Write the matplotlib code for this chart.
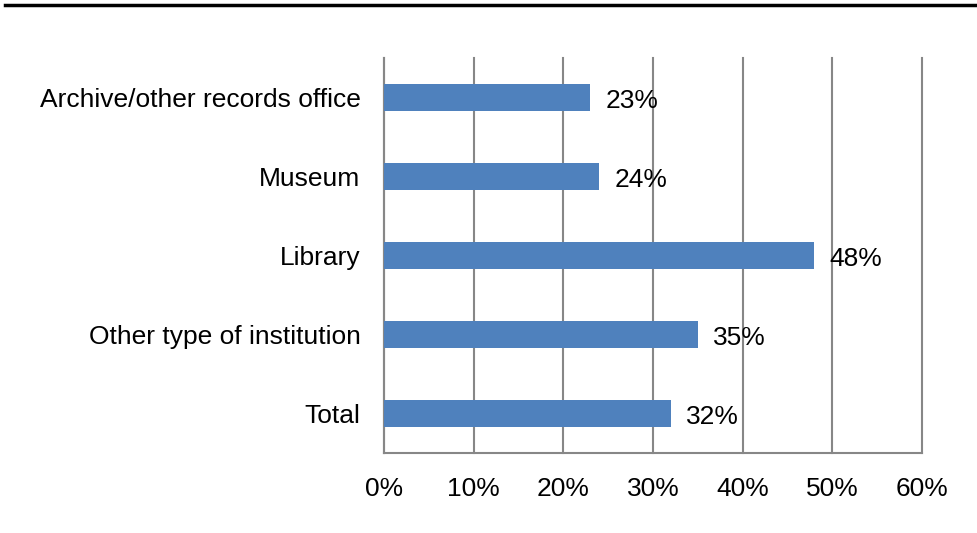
import matplotlib
matplotlib.use("Agg")
import matplotlib.pyplot as plt
from matplotlib.lines import Line2D
from matplotlib.ticker import PercentFormatter

categories = ["Total", "Other type of institution", "Library", "Museum", "Archive/other records office"]
values = [32, 35, 48, 24, 23]
xticks = [0, 10, 20, 30, 40, 50, 60]

plt.rcParams['font.family'] = ['Liberation Sans', 'DejaVu Sans']
fig = plt.figure(figsize=(9.78, 5.33), dpi=100)
ax = fig.add_axes([384/978, 1-453/533, (922-384)/978, (453-58)/533])

y = list(range(len(categories)))
ax.barh(y, values, height=0.35, color='#4f81bd', zorder=3)
for yi, v in zip(y, values):
    ax.text(v + 1.7, yi - 0.04, f"{v}%", va='center', ha='left', fontsize=19, zorder=4)

ax.set_xlim(0, 60)
ax.set_ylim(-0.5, 4.5)
ax.set_xticks(xticks)
ax.xaxis.set_major_formatter(PercentFormatter(decimals=0))
ax.set_yticks(y)
ax.set_yticklabels(categories)
ax.tick_params(axis='both', length=0, labelsize=19)
ax.tick_params(axis='x', pad=17)
ax.tick_params(axis='y', pad=17)
ax.grid(axis='x', color='#878787', linewidth=1.5, zorder=0)
for gl in ax.get_xgridlines():
    gl.set_clip_on(False)
for s in ['top', 'right']:
    ax.spines[s].set_visible(False)
for s in ['left', 'bottom']:
    ax.spines[s].set_color('#878787')
    ax.spines[s].set_linewidth(1.5)

fig.add_artist(Line2D([5/978, 1], [1-5/533, 1-5/533], color='black', linewidth=2.5, transform=fig.transFigure))

fig.savefig("out.png", dpi=100)
